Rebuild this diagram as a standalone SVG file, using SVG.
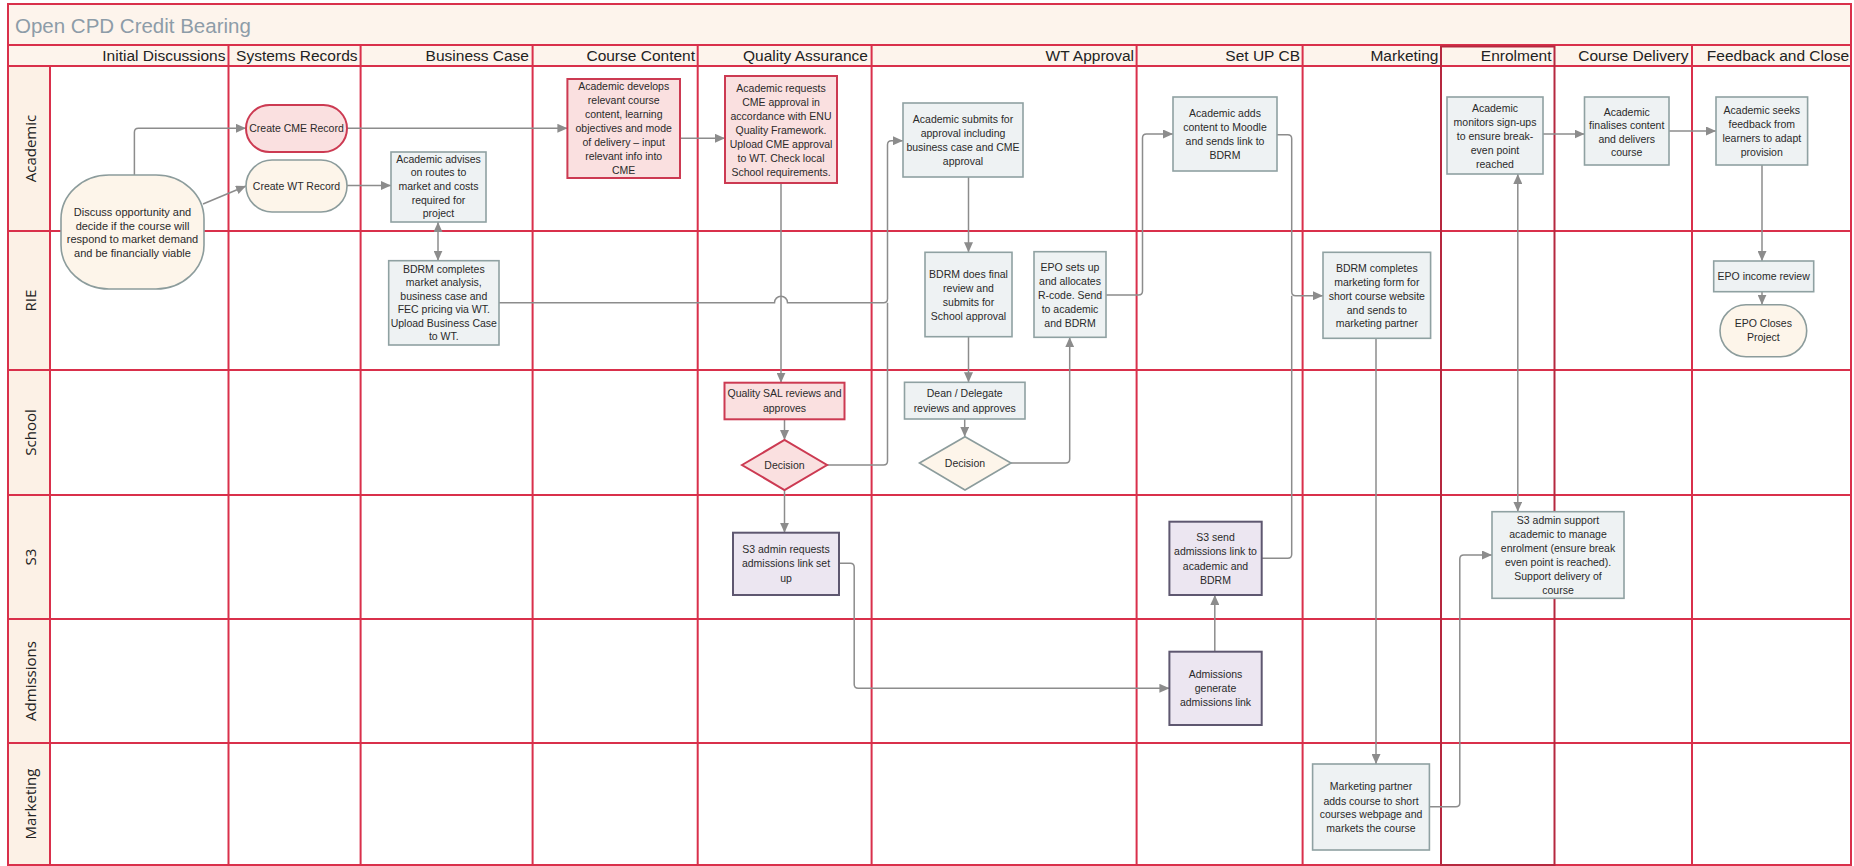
<svg xmlns="http://www.w3.org/2000/svg" width="1854" height="866" viewBox="0 0 1854 866">
<style>
.grid{stroke:#d9304b;stroke-width:2;fill:none}
.band{fill:#fdf4ec}
.hdr{font-family:"Liberation Sans",Arial,sans-serif;font-size:15.5px;fill:#222;text-anchor:end}
.lane{font-family:"Open Sans","Liberation Sans",sans-serif;font-size:15px;fill:#222;text-anchor:middle;dominant-baseline:central}
.title{font-family:"Liberation Sans",Arial,sans-serif;font-size:20.5px;fill:#8d9ca8}
.t{font-family:"Liberation Sans",Arial,sans-serif;font-size:10.5px;fill:#2a2a2a;text-anchor:middle}
.gray{fill:#eef2f3;stroke:#8fa1a2;stroke-width:1.6}
.pink{fill:#fae0e0;stroke:#cc3a52;stroke-width:2}
.purp{fill:#ece6f1;stroke:#5e5770;stroke-width:2}
.cream{fill:#fdf5ea;stroke:#8c9c9c;stroke-width:1.6}
.c{fill:none;stroke:#8c8c8c;stroke-width:1.5}
.a{marker-end:url(#arr)}
.aa{marker-start:url(#arr);marker-end:url(#arr)}
</style>
<defs>
<marker id="arr" markerUnits="userSpaceOnUse" markerWidth="10" markerHeight="9" viewBox="0 0 10 9" refX="10" refY="4.5" orient="auto-start-reverse">
<path d="M0,0 L10,4.5 L0,9 z" fill="#8c8c8c"/>
</marker>
</defs>

<g id="swimlanes">
<rect x="8" y="4" width="1843" height="861" fill="#ffffff"/>
<rect class="band" x="8" y="4" width="1843" height="41"/>
<rect class="band" x="8" y="45" width="1843" height="21"/>
<rect x="8" y="66" width="42" height="799" fill="#fcf1e6"/>
<rect class="grid" x="8" y="4" width="1843" height="861"/>
<path class="grid" d="M8,45H1851M8,66H1851M8,231H1851M8,370H1851M8,495H1851M8,619H1851M8,743H1851"/>
<path class="grid" d="M50,66V865M228.5,45V865M360.6,45V865M532.6,45V865M697.7,45V865M871.6,45V865M1136.6,45V865M1302.6,45V865M1692,45V865"/>
<rect x="1441" y="46.5" width="113.5" height="818.5" fill="none" stroke="#b5283f" stroke-width="2"/>
<text class="title" x="15" y="33">Open CPD Credit Bearing</text>
<text class="hdr" x="225.5" y="61">Initial Discussions</text>
<text class="hdr" x="357.5" y="61">Systems Records</text>
<text class="hdr" x="529" y="61">Business Case</text>
<text class="hdr" x="695" y="61">Course Content</text>
<text class="hdr" x="868" y="61">Quality Assurance</text>
<text class="hdr" x="1134" y="61">WT Approval</text>
<text class="hdr" x="1300" y="61">Set UP CB</text>
<text class="hdr" x="1438.5" y="61">Marketing</text>
<text class="hdr" x="1551.5" y="61">Enrolment</text>
<text class="hdr" x="1688.5" y="61">Course Delivery</text>
<text class="hdr" x="1849" y="61">Feedback and Close</text>
<text class="lane" transform="translate(30,148.5) rotate(-90)">Academic</text>
<text class="lane" transform="translate(30,300.5) rotate(-90)">RIE</text>
<text class="lane" transform="translate(30,432.5) rotate(-90)">School</text>
<text class="lane" transform="translate(30,557) rotate(-90)">S3</text>
<text class="lane" transform="translate(30,681) rotate(-90)">Admissions</text>
<text class="lane" transform="translate(30,804) rotate(-90)">Marketing</text>
</g>

<g id="connectors">
<path class="c a" d="M134.4,175V132.3Q134.4,128.3 138.4,128.3H246"/>
<path class="c a" d="M203,204L246,186"/>
<path class="c a" d="M347,128.3H567.4"/>
<path class="c a" d="M347,185.5H391"/>
<path class="c aa" d="M438,222V260.7"/>
<path class="c a" d="M680,138.3H725"/>
<path class="c a" d="M781,183V382.7"/>
<path class="c a" d="M499,302.7H774.5A6.5,6.5 0 0 1 787.5,302.7H883.5Q887.5,302.7 887.5,298.7V144.7Q887.5,140.7 891.5,140.7H903"/>
<path class="c" d="M827,465H883.5Q887.5,465 887.5,461V302.7"/>
<path class="c a" d="M784.5,419.3V440"/>
<path class="c a" d="M784.5,490V532.7"/>
<path class="c a" d="M968.5,177V252.3"/>
<path class="c a" d="M968.5,336.7V382.3"/>
<path class="c a" d="M964.7,419V436.7"/>
<path class="c a" d="M1011,463H1065.7Q1069.7,463 1069.7,459V337.3"/>
<path class="c a" d="M1106,295H1138.5Q1142.5,295 1142.5,291V138Q1142.5,134 1146.5,134H1173"/>
<path class="c a" d="M839,563.3H850.2Q854.2,563.3 854.2,567.3V684.3Q854.2,688.3 858.2,688.3H1169.4"/>
<path class="c a" d="M1214.8,651.7V595"/>
<path class="c a" d="M1277,134.7H1287.7Q1291.7,134.7 1291.7,138.7V291.7Q1291.7,295.7 1295.7,295.7H1323"/>
<path class="c" d="M1261.7,558.3H1287.7Q1291.7,558.3 1291.7,554.3V295.7"/>
<path class="c a" d="M1376,338.3V764"/>
<path class="c a" d="M1429.4,806.7H1455.8Q1459.8,806.7 1459.8,802.7V559Q1459.8,555 1463.8,555H1492"/>
<path class="c aa" d="M1517.8,174V511.7"/>
<path class="c a" d="M1543,134H1584.5"/>
<path class="c a" d="M1669,131H1716"/>
<path class="c a" d="M1762,165V261"/>
<path class="c a" d="M1762,291.7V304.7"/>
</g>

<g id="n_discuss">
<rect class="cream" x="61" y="175" width="143" height="114" rx="48" ry="44"/>
<text class="t" style="font-size:11px" x="132.5"><tspan x="132.5" y="216">Discuss opportunity and</tspan><tspan x="132.5" y="229.5">decide if the course will</tspan><tspan x="132.5" y="243">respond to market demand</tspan><tspan x="132.5" y="256.5">and be financially viable</tspan></text>
</g>
<g id="n_cme">
<rect class="pink" x="246" y="105" width="101" height="47" rx="23.5"/>
<text class="t" x="296.5" y="132.3">Create CME Record</text>
</g>
<g id="n_wtrec">
<rect class="cream" x="246" y="160" width="101" height="52" rx="26"/>
<text class="t" x="296.5" y="189.8">Create WT Record</text>
</g>
<g id="n_advises">
<rect class="gray" x="391" y="152" width="95" height="70"/>
<text class="t"><tspan x="438.5" y="162.5">Academic advises</tspan><tspan x="438.5" y="176.2">on routes to</tspan><tspan x="438.5" y="189.9">market and costs</tspan><tspan x="438.5" y="203.6">required for</tspan><tspan x="438.5" y="217.3">project</tspan></text>
</g>
<g id="n_bdrm_bc">
<rect class="gray" x="388.7" y="260.7" width="110.3" height="84.3"/>
<text class="t"><tspan x="443.8" y="272.5">BDRM completes</tspan><tspan x="443.8" y="286">market analysis,</tspan><tspan x="443.8" y="299.5">business case and</tspan><tspan x="443.8" y="313">FEC pricing via WT.</tspan><tspan x="443.8" y="326.5">Upload Business Case</tspan><tspan x="443.8" y="340">to WT.</tspan></text>
</g>
<g id="n_develops">
<rect class="pink" x="567.4" y="79" width="112.6" height="99"/>
<text class="t"><tspan x="623.7" y="90">Academic develops</tspan><tspan x="623.7" y="104">relevant course</tspan><tspan x="623.7" y="118">content, learning</tspan><tspan x="623.7" y="132">objectives and mode</tspan><tspan x="623.7" y="146">of delivery – input</tspan><tspan x="623.7" y="160">relevant info into</tspan><tspan x="623.7" y="174">CME</tspan></text>
</g>
<g id="n_requests">
<rect class="pink" x="725" y="76" width="112" height="107"/>
<text class="t"><tspan x="781" y="91.5">Academic requests</tspan><tspan x="781" y="105.5">CME approval in</tspan><tspan x="781" y="119.5">accordance with ENU</tspan><tspan x="781" y="133.5">Quality Framework.</tspan><tspan x="781" y="147.5">Upload CME approval</tspan><tspan x="781" y="161.5">to WT. Check local</tspan><tspan x="781" y="175.5">School requirements.</tspan></text>
</g>
<g id="n_sal">
<rect class="pink" x="724.5" y="382.7" width="120" height="36.6"/>
<text class="t"><tspan x="784.5" y="397.3">Quality SAL reviews and</tspan><tspan x="784.5" y="411.7">approves</tspan></text>
</g>
<g id="n_dec_qa">
<polygon class="pink" points="742,465 784.5,440 827,465 784.5,490"/>
<text class="t" x="784.5" y="469">Decision</text>
</g>
<g id="n_s3req">
<rect class="purp" x="733" y="532.7" width="106" height="62.3"/>
<text class="t"><tspan x="786" y="553.3">S3 admin requests</tspan><tspan x="786" y="567.3">admissions link set</tspan><tspan x="786" y="581.5">up</tspan></text>
</g>
<g id="n_submits">
<rect class="gray" x="903" y="103" width="120" height="74"/>
<text class="t"><tspan x="963" y="123.3">Academic submits for</tspan><tspan x="963" y="137.3">approval including</tspan><tspan x="963" y="151.3">business case and CME</tspan><tspan x="963" y="165.3">approval</tspan></text>
</g>
<g id="n_final">
<rect class="gray" x="925" y="252.3" width="87" height="84.4"/>
<text class="t"><tspan x="968.5" y="278">BDRM does final</tspan><tspan x="968.5" y="292">review and</tspan><tspan x="968.5" y="306">submits for</tspan><tspan x="968.5" y="320">School approval</tspan></text>
</g>
<g id="n_epo">
<rect class="gray" x="1034" y="251.7" width="72" height="85.6"/>
<text class="t"><tspan x="1070" y="271">EPO sets up</tspan><tspan x="1070" y="285">and allocates</tspan><tspan x="1070" y="299">R-code. Send</tspan><tspan x="1070" y="313">to academic</tspan><tspan x="1070" y="326.5">and BDRM</tspan></text>
</g>
<g id="n_dean">
<rect class="gray" x="904.5" y="382.3" width="120.5" height="36.7"/>
<text class="t"><tspan x="964.7" y="397.3">Dean / Delegate</tspan><tspan x="964.7" y="411.7">reviews and approves</tspan></text>
</g>
<g id="n_dec_wt">
<polygon class="cream" points="919.5,463 965,436.7 1011,463 965,490"/>
<text class="t" x="965" y="467">Decision</text>
</g>
<g id="n_adds">
<rect class="gray" x="1173" y="97" width="104" height="74"/>
<text class="t"><tspan x="1225" y="116.7">Academic adds</tspan><tspan x="1225" y="130.7">content to Moodle</tspan><tspan x="1225" y="144.7">and sends link to</tspan><tspan x="1225" y="159">BDRM</tspan></text>
</g>
<g id="n_s3send">
<rect class="purp" x="1169.4" y="521.7" width="92.3" height="73.3"/>
<text class="t"><tspan x="1215.5" y="541.3">S3 send</tspan><tspan x="1215.5" y="555.3">admissions link to</tspan><tspan x="1215.5" y="569.7">academic and</tspan><tspan x="1215.5" y="583.7">BDRM</tspan></text>
</g>
<g id="n_adm">
<rect class="purp" x="1169.4" y="651.7" width="92.3" height="73.3"/>
<text class="t"><tspan x="1215.5" y="678">Admissions</tspan><tspan x="1215.5" y="691.7">generate</tspan><tspan x="1215.5" y="705.7">admissions link</tspan></text>
</g>
<g id="n_bdrm_mkt">
<rect class="gray" x="1323" y="252.3" width="107.6" height="86"/>
<text class="t"><tspan x="1376.8" y="271.7">BDRM completes</tspan><tspan x="1376.8" y="285.7">marketing form for</tspan><tspan x="1376.8" y="300">short course website</tspan><tspan x="1376.8" y="314">and sends to</tspan><tspan x="1376.8" y="327.3">marketing partner</tspan></text>
</g>
<g id="n_mkt_partner">
<rect class="gray" x="1312.6" y="764" width="116.8" height="86"/>
<text class="t"><tspan x="1371" y="790">Marketing partner</tspan><tspan x="1371" y="804.7">adds course to short</tspan><tspan x="1371" y="818">courses webpage and</tspan><tspan x="1371" y="832.3">markets the course</tspan></text>
</g>
<g id="n_monitors">
<rect class="gray" x="1447" y="97" width="96" height="77"/>
<text class="t"><tspan x="1495" y="112.3">Academic</tspan><tspan x="1495" y="126.3">monitors sign-ups</tspan><tspan x="1495" y="140">to ensure break-</tspan><tspan x="1495" y="154">even point</tspan><tspan x="1495" y="168">reached</tspan></text>
</g>
<g id="n_support">
<rect class="gray" x="1492" y="511.7" width="132" height="86.6"/>
<text class="t"><tspan x="1558" y="524">S3 admin support</tspan><tspan x="1558" y="538">academic to manage</tspan><tspan x="1558" y="552.3">enrolment (ensure break</tspan><tspan x="1558" y="565.7">even point is reached).</tspan><tspan x="1558" y="580">Support delivery of</tspan><tspan x="1558" y="594">course</tspan></text>
</g>
<g id="n_finalises">
<rect class="gray" x="1584.5" y="97" width="84.5" height="68"/>
<text class="t"><tspan x="1626.7" y="115.5">Academic</tspan><tspan x="1626.7" y="129">finalises content</tspan><tspan x="1626.7" y="142.5">and delivers</tspan><tspan x="1626.7" y="156">course</tspan></text>
</g>
<g id="n_seeks">
<rect class="gray" x="1716" y="97" width="91.6" height="68"/>
<text class="t"><tspan x="1761.8" y="114">Academic seeks</tspan><tspan x="1761.8" y="128">feedback from</tspan><tspan x="1761.8" y="142">learners to adapt</tspan><tspan x="1761.8" y="156">provision</tspan></text>
</g>
<g id="n_income">
<rect class="gray" x="1713.7" y="261" width="100" height="30.7"/>
<text class="t" x="1763.7" y="280">EPO income review</text>
</g>
<g id="n_closes">
<rect class="cream" x="1720" y="304.7" width="86.7" height="52" rx="26"/>
<text class="t"><tspan x="1763.3" y="327.3">EPO Closes</tspan><tspan x="1763.3" y="341.3">Project</tspan></text>
</g>
</svg>
